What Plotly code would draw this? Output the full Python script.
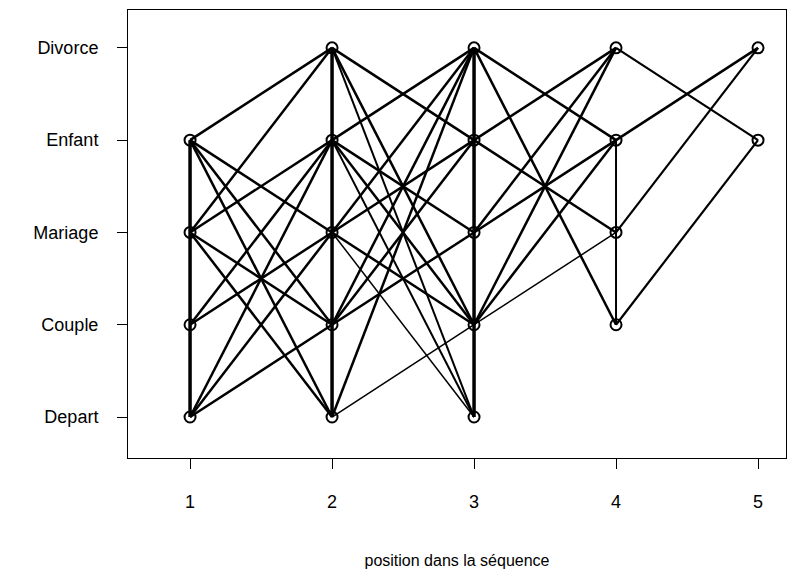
import plotly.graph_objects as go

# ---- data ----
states = ["Depart", "Couple", "Mariage", "Enfant", "Divorce"]
positions = [1, 2, 3, 4, 5]

# transitions: (from position, from state, to position = from + 1, to state, estimated frequency class)
seg_pos0 = [1, 1, 1, 1, 1, 1, 1, 1, 1, 1, 1, 1, 1,
            2, 2, 2, 2, 2, 2, 2, 2, 2, 2, 2, 2, 2, 2, 2, 2,
            3, 3, 3, 3, 3, 3, 3, 3, 3,
            4, 4, 4, 4]
seg_state0 = ["Enfant", "Mariage", "Enfant", "Enfant", "Enfant", "Mariage", "Mariage", "Mariage",
              "Couple", "Couple", "Depart", "Depart", "Depart",
              "Divorce", "Divorce", "Divorce", "Enfant", "Enfant", "Enfant", "Enfant",
              "Mariage", "Mariage", "Mariage", "Mariage", "Couple", "Couple", "Couple",
              "Depart", "Depart",
              "Divorce", "Divorce", "Enfant", "Enfant", "Mariage", "Mariage", "Couple", "Couple", "Couple",
              "Divorce", "Enfant", "Mariage", "Couple"]
seg_state1 = ["Divorce", "Divorce", "Mariage", "Couple", "Depart", "Enfant", "Couple", "Depart",
              "Enfant", "Mariage", "Enfant", "Mariage", "Couple",
              "Enfant", "Couple", "Depart", "Divorce", "Mariage", "Couple", "Depart",
              "Divorce", "Enfant", "Couple", "Depart", "Divorce", "Enfant", "Mariage",
              "Divorce", "Couple",
              "Enfant", "Couple", "Divorce", "Mariage", "Divorce", "Enfant", "Divorce", "Enfant", "Mariage",
              "Enfant", "Divorce", "Divorce", "Enfant"]
seg_freq = [2, 2, 2, 2, 2, 2, 2, 2, 2, 2, 2, 2, 2,
            2, 2, 1.5, 2, 2, 2, 1.5, 2, 2, 2, 1, 2, 2, 2, 2, 1,
            2, 2, 2, 2, 2, 2, 2, 2, 1,
            1.7, 2, 1.7, 1.7]

# simultaneous events (vertical links) at one position: position, lowest state, highest state, freq
vert_pos = [1, 2, 3, 4]
vert_low = ["Depart", "Depart", "Depart", "Couple"]
vert_high = ["Enfant", "Divorce", "Divorce", "Enfant"]
vert_freq = [3, 3, 3, 1.5]

# observed nodes per position
node_pos = [1, 1, 1, 1, 2, 2, 2, 2, 2, 3, 3, 3, 3, 3, 4, 4, 4, 4, 5, 5]
node_state = ["Depart", "Couple", "Mariage", "Enfant",
              "Depart", "Couple", "Mariage", "Enfant", "Divorce",
              "Depart", "Couple", "Mariage", "Enfant", "Divorce",
              "Couple", "Mariage", "Enfant", "Divorce",
              "Enfant", "Divorce"]

idx = {s: i for i, s in enumerate(states)}


def width(f):
    return 0.5 + 1.0 * f


fig = go.Figure()

groups = {}
for p0, s0, s1, f in zip(seg_pos0, seg_state0, seg_state1, seg_freq):
    g = groups.setdefault(f, ([], []))
    g[0].extend([p0, p0 + 1, None])
    g[1].extend([idx[s0], idx[s1], None])
for p, lo, hi, f in zip(vert_pos, vert_low, vert_high, vert_freq):
    g = groups.setdefault(f, ([], []))
    g[0].extend([p, p, None])
    g[1].extend([idx[lo], idx[hi], None])

for f, (xs, ys) in sorted(groups.items()):
    fig.add_trace(go.Scatter(x=xs, y=ys, mode="lines",
                             line=dict(color="black", width=width(f)),
                             hoverinfo="skip", showlegend=False))

fig.add_trace(go.Scatter(x=node_pos, y=[idx[s] for s in node_state], mode="markers",
                         marker=dict(symbol="circle-open", size=11, color="black",
                                     line=dict(width=2, color="black")),
                         showlegend=False))

font = dict(family="Liberation Sans, Arial, sans-serif", size=16, color="black")
tickfont = dict(family="Liberation Sans, Arial, sans-serif", size=18, color="black")

# page body has an 8px margin: figure is sized/offset to compensate
fig.update_layout(
    width=799, height=566,
    margin=dict(l=120, r=21, t=2, b=116),
    plot_bgcolor="white", paper_bgcolor="white",
    font=font,
    xaxis=dict(range=[0.563, 5.197], tickvals=positions, ticktext=[str(p) for p in positions],
               showgrid=False, zeroline=False, showline=True, mirror=True,
               linecolor="black", linewidth=1, ticks="outside", ticklen=10,
               tickcolor="black", tickwidth=1, ticklabelstandoff=17, automargin=False,
               tickfont=tickfont,
               title=dict(text="position dans la séquence", standoff=44, font=font)),
    yaxis=dict(range=[-0.444, 4.41], tickvals=list(range(len(states))), ticktext=states,
               showgrid=False, zeroline=False, showline=True, mirror=True,
               linecolor="black", linewidth=1, ticks="outside", ticklen=10,
               tickcolor="black", tickwidth=1, ticklabelstandoff=15, automargin=False,
               tickfont=tickfont),
)

fig.write_html("out.html")
